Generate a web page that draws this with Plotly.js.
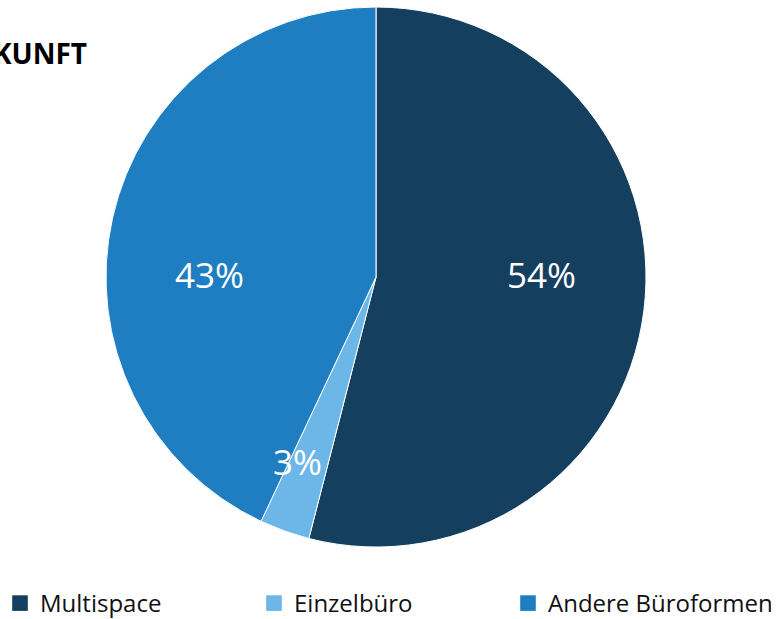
<!DOCTYPE html>
<html>
<head>
<meta charset="utf-8">
<script src="https://cdn.plot.ly/plotly-3.0.1.min.js"></script>
<style>html,body{margin:0;padding:0;background:#fff;}#chart{width:778px;height:619px;}</style>
</head>
<body>
<div id="chart"></div>
<script>
const categories = ["Multispace", "Einzelbüro", "Andere Büroformen"];
const values = [54, 3, 43];
const colors = ["#143F5F", "#6DB7E8", "#1F7EC1"];
const titleText = "ZUKUNFT";

// label anchor points (pixels) for the percentage labels, in slice order
const labelPos = [[541.5, 275.5], [297.5, 462], [209, 275.5]];

const W = 778, H = 619;
const total = values.reduce((a, b) => a + b, 0);

const trace = {
  type: "pie",
  labels: categories,
  values: values,
  sort: false,
  direction: "clockwise",
  rotation: 0,
  marker: {colors: colors, line: {color: "#ffffff", width: 1}},
  textinfo: "none",
  domain: {x: [106/W, 646/W], y: [72/H, 612/H]},
  hoverinfo: "label+percent"
};

const annotations = values.map((v, i) => ({
  text: Math.round(v / total * 100) + "%",
  xref: "paper", yref: "paper",
  x: labelPos[i][0] / W, y: 1 - (labelPos[i][1] - 1) / H,
  xanchor: "center", yanchor: "middle",
  showarrow: false,
  font: {family: "Open Sans, sans-serif", size: 35, color: "#ffffff"}
}));

const layout = {
  width: W, height: H,
  margin: {l: 0, r: 0, t: 0, b: 0},
  paper_bgcolor: "#ffffff",
  showlegend: true,
  annotations: annotations,
  title: {
    text: "<b>" + titleText + "</b>",
    xref: "container", yref: "container",
    x: 87/W, xanchor: "right",
    y: 1 - 54/H, yanchor: "middle",
    font: {family: "Open Sans, sans-serif", size: 28, color: "#000000"}
  },
  legend: {
    orientation: "h",
    x: 0, xanchor: "left",
    y: 0, yanchor: "bottom",
    entrywidth: 209, entrywidthmode: "pixels",
    font: {family: "Open Sans, sans-serif", size: 24, color: "#111111"},
    traceorder: "normal"
  }
};

Plotly.newPlot("chart", [trace], layout, {displayModeBar: false, staticPlot: true}).then(gd => {
  gd.querySelectorAll(".legend .legendpoints path").forEach(p => {
    const t = p.getAttribute("transform") || "";
    p.setAttribute("transform", t + " scale(1.3)");
    p.style.strokeWidth = "0px";
  });
  gd.querySelectorAll(".legend [clip-path]").forEach(e => e.removeAttribute("clip-path"));
  const lg = gd.querySelector(".legend");
  if (lg) {
    const t = lg.getAttribute("transform") || "";
    lg.setAttribute("transform", t + " translate(0,7)");
  }
});
</script>
</body>
</html>
